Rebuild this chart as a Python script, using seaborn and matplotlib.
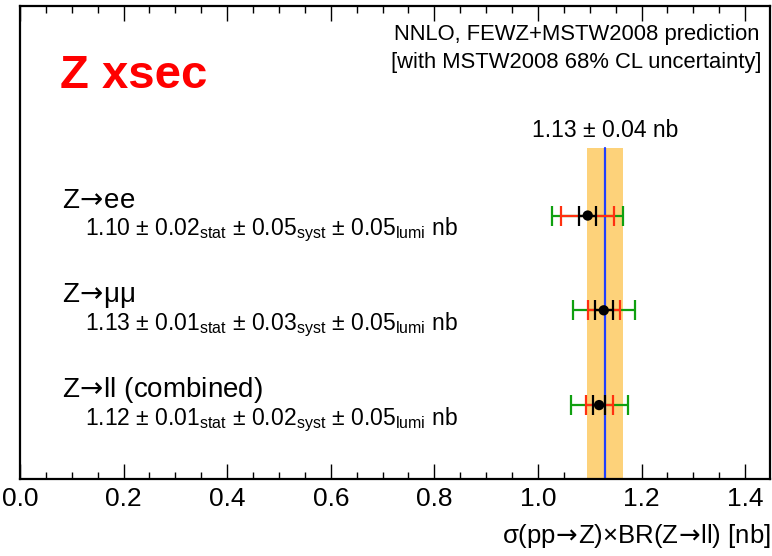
import seaborn as sns
import matplotlib.pyplot as plt
import pandas as pd
from matplotlib.ticker import MultipleLocator

ARROW = r"$\!\mathsf{{\rightarrow}}\!$"

# measured Z cross sections per channel
channels = ["Z" + ARROW + "ee", "Z" + ARROW + "μμ", "Z" + ARROW + "ll (combined)"]
xsec_txt = ["1.10", "1.13", "1.12"]
stat_txt = ["0.02", "0.01", "0.01"]
syst_txt = ["0.05", "0.03", "0.02"]
lumi_txt = ["0.05", "0.05", "0.05"]
measured = [1.096, 1.127, 1.118]
err_stat = [0.016, 0.017, 0.012]
err_stat_syst = [0.051, 0.031, 0.026]
err_total = [0.069, 0.060, 0.055]
ypos = [3, 2, 1]

# theory prediction
theory = 1.130
theory_err = 0.035

sns.set_style('ticks')
plt.rcParams['font.family'] = ['Liberation Sans', 'DejaVu Sans']
plt.rcParams['text.color'] = 'black'
plt.rcParams['xtick.color'] = 'black'
plt.rcParams['axes.edgecolor'] = 'black'
plt.rcParams['mathtext.fontset'] = 'custom'
plt.rcParams['mathtext.rm'] = 'Liberation Sans'
plt.rcParams['mathtext.it'] = 'Liberation Sans:italic'
plt.rcParams['mathtext.sf'] = 'DejaVu Sans'

df = pd.DataFrame({'channel': channels, 'xsec': measured, 'y': ypos})

fig = plt.figure(figsize=(7.72, 5.56), dpi=100)
ax = fig.add_axes([0.0259, 0.1385, 0.9709, 0.8505])

band_top = 0.70
ax.axvspan(theory - theory_err, theory + theory_err, ymin=0, ymax=band_top,
           color='#fdd27a', lw=0, zorder=1)
ax.axvline(theory, ymin=0, ymax=band_top, color='#2040ff', lw=1.6, zorder=2)

ax.errorbar(measured, ypos, xerr=err_total, fmt='none', ecolor='#10a010',
            elinewidth=1.6, capsize=7, capthick=1.6, zorder=3)
ax.errorbar(measured, ypos, xerr=err_stat_syst, fmt='none', ecolor='#ff3010',
            elinewidth=1.6, capsize=7, capthick=1.6, zorder=4)
ax.errorbar(measured, ypos, xerr=err_stat, fmt='none', ecolor='black',
            elinewidth=1.6, capsize=7, capthick=1.6, zorder=5)
sns.scatterplot(data=df, x='xsec', y='y', color='black', s=55, edgecolor='none',
                ax=ax, zorder=6, legend=False)

for i in range(len(channels)):
    ax.text(0.081, ypos[i] + 0.084, channels[i], fontsize=20, va='baseline')
    s = (xsec_txt[i] + r" ± " + stat_txt[i] + r"$_{\mathrm{stat}}$ ± "
         + syst_txt[i] + r"$_{\mathrm{syst}}$ ± " + lumi_txt[i]
         + r"$_{\mathrm{lumi}}$ nb")
    ax.text(0.125, ypos[i] - 0.21, s, fontsize=16.5, va='baseline')

ax.text(0.053, 0.827, "Z xsec", transform=ax.transAxes, color='#ff0000',
        fontsize=34, fontweight='bold', va='baseline')
ax.text(0.986, 0.928, "NNLO, FEWZ+MSTW2008 prediction", transform=ax.transAxes,
        fontsize=15.8, ha='right', va='baseline')
ax.text(0.989, 0.869, "[with MSTW2008 68% CL uncertainty]", transform=ax.transAxes,
        fontsize=15.8, ha='right', va='baseline')
ax.text(theory, 0.723, "1.13 ± 0.04 nb", transform=ax.get_xaxis_transform(),
        fontsize=16.5, ha='center', va='baseline')

ax.set_xlim(0, 1.447)
ax.set_ylim(0.22, 5.21)
ax.set_xlabel('')
ax.set_ylabel('')
ax.set_yticks([])
ax.xaxis.set_major_locator(MultipleLocator(0.2))
ax.xaxis.set_minor_locator(MultipleLocator(0.05))
ax.tick_params(axis='x', which='major', direction='in', length=11, width=1,
               top=True, labelsize=19, pad=6)
ax.tick_params(axis='x', which='minor', direction='in', length=5, width=1, top=True)
ax.set_xticks([0.0, 0.2, 0.4, 0.6, 0.8, 1.0, 1.2, 1.4])
ax.set_xticklabels(['0.0', '0.2', '0.4', '0.6', '0.8', '1.0', '1.2', '1.4'])
for sp in ax.spines.values():
    sp.set_linewidth(1.6)

fig.text(0.998, 0.023, "σ(pp" + ARROW + "Z)×BR(Z" + ARROW + "ll) [nb]",
         fontsize=18.5, ha='right', va='baseline')

fig.savefig('out.png', dpi=100)
